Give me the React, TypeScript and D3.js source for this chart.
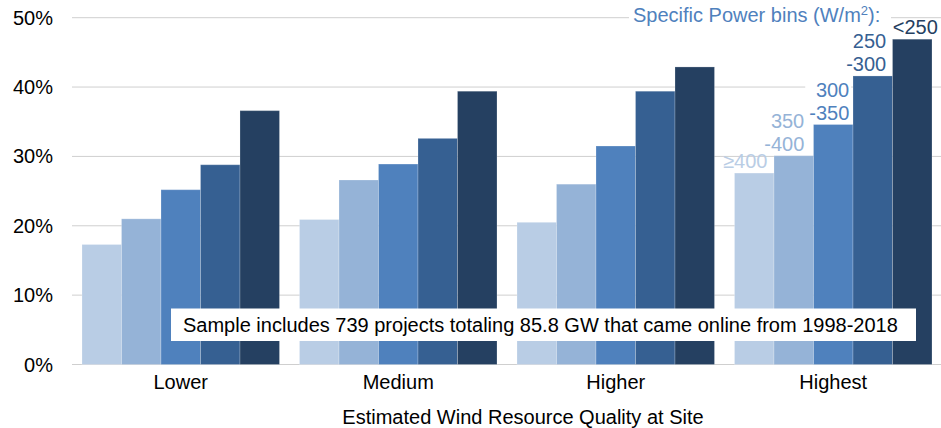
import React from "react";
import * as d3 from "d3";

// Wind resource quality categories along the x axis
const categories = ["Lower", "Medium", "Higher", "Highest"];

// Specific power bins (W/m²), one bar per bin inside each category
const bins = ["≥400", "350-400", "300-350", "250-300", "<250"];
const binLabelLines = [["≥400"], ["350", "-400"], ["300", "-350"], ["250", "-300"], ["<250"]];
const binColors = ["#B9CDE5", "#95B3D7", "#4F81BD", "#366092", "#254061"];

// Capacity factor by bin, ordered like `categories`
const cfGe400 = [0.173, 0.209, 0.205, 0.276];
const cf350to400 = [0.21, 0.266, 0.26, 0.301];
const cf300to350 = [0.252, 0.289, 0.315, 0.346];
const cf250to300 = [0.288, 0.326, 0.394, 0.416];
const cfLt250 = [0.366, 0.394, 0.429, 0.469];
const seriesByBin = [cfGe400, cf350to400, cf300to350, cf250to300, cfLt250];

const yTicks = [0, 0.1, 0.2, 0.3, 0.4, 0.5];

const xTitle = "Estimated Wind Resource Quality at Site";
const legendTitle = "Specific Power bins (W/m";
const sampleNote =
  "Sample includes 739 projects totaling 85.8 GW that came online from 1998-2018";

const W = 941;
const H = 428;
const FONT = "'Liberation Sans', Arial, sans-serif";

// Label placement for the bin labels above the "Highest" group
const labelAnchor = ["middle", "end", "end", "end", "middle"];
const labelDx = [-9, 10.5, 16, 13.5, 3];
const labelBg = [false, true, true, true, false];
const LINE_H = 23;

export default function App() {
  const x = d3
    .scaleBand<string>()
    .domain(categories)
    .range([72, 942])
    .paddingInner(0.092)
    .paddingOuter(0.046);
  const xInner = d3
    .scaleBand<string>()
    .domain(bins)
    .range([0, x.bandwidth()]);
  const y = d3.scaleLinear().domain([0, 0.5]).range([364.5, 17.7]);
  const fmt = d3.format(".0%");

  const lastCat = categories[categories.length - 1];
  const lastIdx = categories.length - 1;

  return (
    <div style={{ position: "absolute", left: 0, top: 0 }}>
      <svg width={W} height={H} style={{ display: "block", fontFamily: FONT }}>
        <rect width={W} height={H} fill="#ffffff" />

        {/* gridlines and y tick labels */}
        {yTicks.map((t) => (
          <g key={t}>
            <line x1={72} x2={W} y1={y(t)} y2={y(t)} stroke="#CFCFCF" strokeWidth={1} />
            <text x={53} y={y(t) + 7} textAnchor="end" fontSize={20} fill="#000">
              {fmt(t)}
            </text>
          </g>
        ))}

        {/* bars */}
        {categories.map((c, ci) => (
          <g key={c} transform={`translate(${x(c)},0)`}>
            {bins.map((b, bi) => {
              const v = seriesByBin[bi][ci];
              return (
                <rect
                  key={b}
                  x={xInner(b)}
                  y={y(v)}
                  width={xInner.bandwidth()}
                  height={y(0) - y(v)}
                  fill={binColors[bi]}
                  stroke="#ffffff"
                  strokeOpacity={0.22}
                  strokeWidth={1}
                />
              );
            })}
          </g>
        ))}

        {/* category labels */}
        {categories.map((c) => (
          <text
            key={c}
            x={(x(c) as number) + x.bandwidth() / 2}
            y={389}
            textAnchor="middle"
            fontSize={20}
            fill="#000"
          >
            {c}
          </text>
        ))}

        <text x={523} y={424} textAnchor="middle" fontSize={20} fill="#000">
          {xTitle}
        </text>

        {/* legend title */}
        <rect x={629} y={4} width={262} height={25} fill="#ffffff" />
        <text x={633} y={22} fontSize={20} fill="#4F81BD">
          {legendTitle}
          <tspan fontSize={13} dy={-7}>2</tspan>
          <tspan dy={7}>):</tspan>
        </text>

        {/* bin labels above the last category's bars */}
        {bins.map((b, bi) => {
          const v = seriesByBin[bi][lastIdx];
          const cx = (x(lastCat) as number) + (xInner(b) as number) + xInner.bandwidth() / 2;
          const lines = binLabelLines[bi];
          const baseY = y(v) - 5;
          const tx = cx + labelDx[bi];
          const boxW = 44;
          const boxTop = baseY - LINE_H * (lines.length - 1) - 17;
          return (
            <g key={b}>
              {labelBg[bi] && (
                <rect
                  x={tx - boxW}
                  y={boxTop}
                  width={boxW + 2}
                  height={baseY - boxTop + 3}
                  fill="#ffffff"
                />
              )}
              {lines.map((ln, li) => (
                <text
                  key={li}
                  x={tx}
                  y={baseY - LINE_H * (lines.length - 1 - li)}
                  textAnchor={labelAnchor[bi]}
                  fontSize={20}
                  fill={binColors[bi]}
                >
                  {ln}
                </text>
              ))}
            </g>
          );
        })}

        {/* sample note */}
        <rect x={171} y={308.5} width={745} height={32.5} fill="#ffffff" />
        <text x={183} y={332} fontSize={20} fill="#000">
          {sampleNote}
        </text>
      </svg>
    </div>
  );
}
